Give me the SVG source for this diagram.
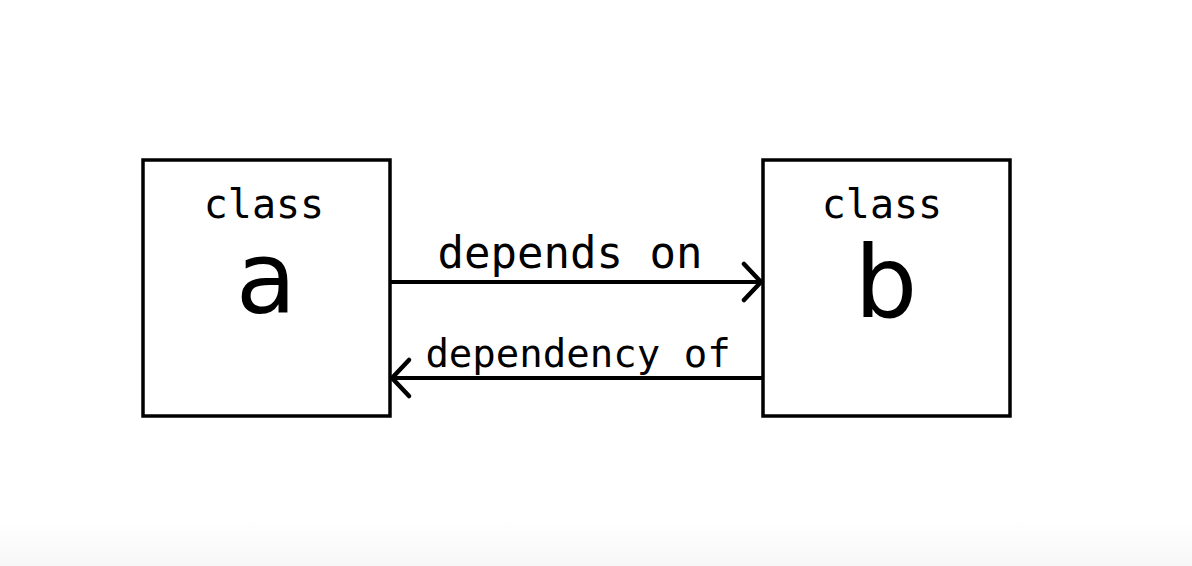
<svg xmlns="http://www.w3.org/2000/svg" width="1192" height="566" viewBox="0 0 1192 566">
  <style>
    .box { fill: #ffffff; stroke: #000000; stroke-width: 3.5; }
    .kw { font-family: "DejaVu Sans Mono", "Liberation Mono", monospace; font-size: 40px; fill: #000; text-anchor: middle; }
    .name { font-family: "DejaVu Sans", "Liberation Sans", sans-serif; font-size: 99px; fill: #000; text-anchor: middle; }
    .lbl { font-family: "DejaVu Sans Mono", "Liberation Mono", monospace; fill: #000; text-anchor: middle; }
    .line { stroke: #000; stroke-width: 4; fill: none; }
    .head { stroke: #000; stroke-width: 4.5; fill: none; stroke-linecap: round; stroke-linejoin: round; }
  </style>
  <defs>
    <linearGradient id="bottomFade" x1="0" y1="0" x2="0" y2="1">
      <stop offset="0" stop-color="#ffffff"/>
      <stop offset="1" stop-color="#f7f7f7"/>
    </linearGradient>
  </defs>
  <rect x="0" y="0" width="1192" height="566" fill="#ffffff"/>
  <rect x="0" y="520" width="1192" height="46" fill="url(#bottomFade)"/>

  <g id="node-a">
    <rect class="box" x="143" y="160" width="247" height="256"/>
    <text class="kw" x="264" y="218">class</text>
    <text class="name" x="266" y="313">a</text>
  </g>

  <g id="node-b">
    <rect class="box" x="763" y="160" width="247" height="256"/>
    <text class="kw" x="882" y="218">class</text>
    <text class="name" x="886" y="317">b</text>
  </g>

  <g id="connectors">
    <g id="edge-depends-on">
      <line class="line" x1="390" y1="282" x2="761" y2="282"/>
      <polyline class="head" points="744,264 761,282 744,300"/>
      <text class="lbl" x="570" y="268" font-size="44">depends on</text>
    </g>
    <g id="edge-dependency-of">
      <line class="line" x1="763" y1="378" x2="392" y2="378"/>
      <polyline class="head" points="409,360 392,378 409,396"/>
      <text class="lbl" x="578" y="367" font-size="39">dependency of</text>
    </g>
  </g>
</svg>
